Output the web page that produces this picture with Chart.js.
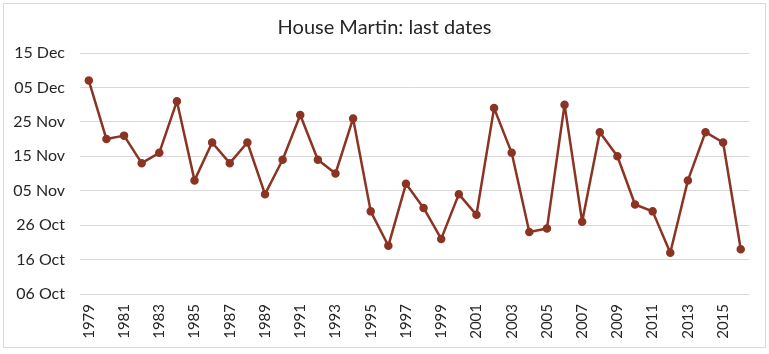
<!DOCTYPE html>
<html>
<head>
<meta charset="utf-8">
<script src="https://cdn.jsdelivr.net/npm/chart.js@4/dist/chart.umd.min.js"></script>
<style>
  html, body { margin: 0; padding: 0; background: #ffffff; }
  #wrap { width: 769px; height: 354px; position: relative; }
</style>
</head>
<body>
<div id="wrap"><canvas id="c" width="769" height="354"></canvas></div>
<script>
// Categories: years
const years = ["1979","1980","1981","1982","1983","1984","1985","1986","1987","1988",
               "1989","1990","1991","1992","1993","1994","1995","1996","1997","1998",
               "1999","2000","2001","2002","2003","2004","2005","2006","2007","2008",
               "2009","2010","2011","2012","2013","2014","2015","2016"];
// Last date seen, as days after 06 Oct
const lastDay = [62,45,46,38,41,56,33,44,38,44,29,39,52,
                 39,35,51,24,14,32,25,16,29,23,54,41,18,19,
                 55,21,47,40,26,24,12,33,47,44,13];
// Y tick labels (every 10 days from 06 Oct)
const yTickLabels = ["06 Oct","16 Oct","26 Oct","05 Nov","15 Nov","25 Nov","05 Dec","15 Dec"];

const borderPlugin = {
  id: 'outerBorder',
  beforeDraw(chart) {
    const ctx = chart.ctx;
    ctx.save();
    ctx.fillStyle = '#ffffff';
    ctx.fillRect(0, 0, chart.width, chart.height);
    ctx.strokeStyle = '#d9d9d9';
    ctx.lineWidth = 1;
    ctx.strokeRect(3.5, 3.5, 762, 344);
    ctx.restore();
  }
};

new Chart(document.getElementById('c'), {
  type: 'line',
  data: {
    labels: years,
    datasets: [{
      data: lastDay,
      yAxisID: 'y',
      borderColor: '#8c3423',
      backgroundColor: '#8c3423',
      borderWidth: 2.5,
      borderJoinStyle: 'round',
      pointRadius: 3,
      pointHoverRadius: 3,
      tension: 0,
      fill: false
    }]
  },
  options: {
    responsive: false,
    animation: false,
    layout: { padding: { left: 0, right: 0, top: 0, bottom: 0 } },
    plugins: {
      legend: { display: false },
      tooltip: { enabled: false },
      title: {
        display: true,
        text: 'House Martin: last dates',
        color: '#262626',
        font: { family: 'Lato', size: 20, weight: 'normal' },
        padding: { top: 16, bottom: 13 }
      }
    },
    scales: {
      x: {
        type: 'category',
        offset: true,
        grid: { display: false, drawTicks: false },
        border: { display: false },
        ticks: {
          autoSkip: false,
          minRotation: 90,
          maxRotation: 90,
          padding: 10,
          color: '#262626',
          font: { family: 'Lato', size: 15 },
          callback: function(value, index) { return index % 2 === 0 ? years[index] : ''; }
        },
        afterFit: function(scale) { scale.height = 60; }
      },
      y: {
        position: 'left',
        min: 0,
        max: 70,
        grid: { color: '#d9d9d9', lineWidth: 1, drawTicks: false },
        border: { display: false },
        ticks: {
          stepSize: 10,
          padding: 15,
          color: '#262626',
          font: { family: 'Lato', size: 16 },
          callback: function(value) { return yTickLabels[Math.round(value / 10)]; }
        },
        afterFit: function(scale) { scale.width = 80; }
      },
      yRight: {
        position: 'right',
        min: 0,
        max: 70,
        grid: { display: false, drawTicks: false },
        border: { display: false },
        ticks: { display: false },
        afterFit: function(scale) { scale.width = 19; }
      }
    }
  },
  plugins: [borderPlugin]
});
</script>
</body>
</html>
